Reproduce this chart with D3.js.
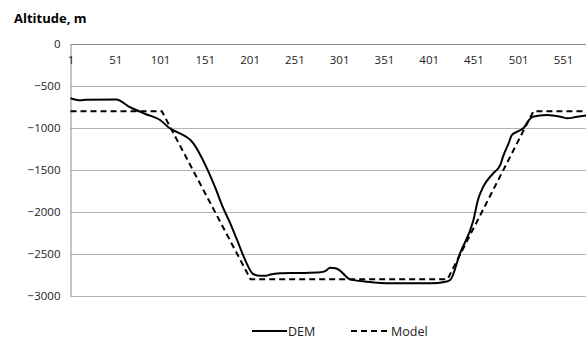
<!DOCTYPE html>
<html><head><meta charset="utf-8">
<script src="https://cdn.jsdelivr.net/npm/d3@7"></script>
<style>body{margin:0;background:#fff}svg{display:block}text{font-family:"Open Sans","Noto Sans",sans-serif}</style>
</head><body>
<svg id="c" width="586" height="343"></svg>
<script>
const yTicks = [0, -500, -1000, -1500, -2000, -2500, -3000];
const xTicks = [1, 51, 101, 151, 201, 251, 301, 351, 401, 451, 501, 551];
const demIndex = [1,12,18,52,67,84,101,113,120,138,146,155,163,171,180,187,196,205,213,219,224,235,258,280,286,291,297,302,308,313,332,358,403,420,425,436,451,456,462,473,481,484,490,494,500,507,512,517,533,548,556,565,578];
const demValue = [-645,-670,-665,-660,-750,-830,-905,-1012,-1048,-1180,-1321,-1520,-1720,-1940,-2150,-2333,-2570,-2738,-2760,-2760,-2745,-2730,-2726,-2718,-2700,-2663,-2670,-2698,-2760,-2802,-2829,-2849,-2849,-2830,-2810,-2492,-2095,-1857,-1698,-1540,-1440,-1341,-1190,-1083,-1044,-1000,-920,-865,-845,-865,-885,-870,-850];
const modelIndex = [1,103,202,422,518,578];
const modelValue = [-800,-800,-2800,-2800,-800,-800];

const svg = d3.select("#c");
const x = d3.scaleLinear().domain([1, 551]).range([70.5, 563]);
const y = d3.scaleLinear().domain([0, -3000]).range([44, 296]);
const W = 586;

svg.append("text").attr("x", 14).attr("y", 23).attr("font-weight", "bold").attr("font-size", 13).attr("fill", "#000").text("Altitude, m");

// gridlines
svg.append("g").selectAll("line").data(yTicks).join("line")
  .attr("x1", 70.5).attr("x2", W).attr("y1", d => Math.round(y(d)) + 0.5).attr("y2", d => Math.round(y(d)) + 0.5)
  .attr("stroke", d => d === 0 ? "#8c8c8c" : "#b3b3b3").attr("stroke-width", 1);

// y axis
const ya = d3.axisLeft(y).tickValues(yTicks).tickSize(0).tickPadding(10).tickFormat(d3.format("d"));
const gy = svg.append("g").attr("transform", "translate(70.5,0)").call(ya);
gy.select(".domain").attr("stroke", "#8c8c8c");
gy.selectAll("text").attr("font-size", 11.5).attr("fill", "#222");

// x axis labels
const xa = d3.axisBottom(x).tickValues(xTicks).tickSize(0).tickPadding(12).tickFormat(d3.format("d"));
const gx = svg.append("g").attr("transform", `translate(0,${y(0)})`).call(xa);
gx.select(".domain").remove();
gx.selectAll("text").attr("font-size", 11.5).attr("fill", "#222");

svg.append("clipPath").attr("id", "clip").append("rect").attr("x", 70).attr("y", 0).attr("width", W - 70).attr("height", 343);

const line = d3.line().x(d => x(d[0])).y(d => y(d[1])).curve(d3.curveMonotoneX);
const dem = demIndex.map((d, i) => [d, demValue[i]]);
const model = modelIndex.map((d, i) => [d, modelValue[i]]);
const g = svg.append("g").attr("clip-path", "url(#clip)");
g.append("path").datum(model).attr("d", d3.line().x(d => x(d[0])).y(d => y(d[1])))
  .attr("fill", "none").attr("stroke", "#000").attr("stroke-width", 2).attr("stroke-dasharray", "6,4");
g.append("path").datum(dem).attr("d", line)
  .attr("fill", "none").attr("stroke", "#000").attr("stroke-width", 2);

// legend
const lg = svg.append("g");
lg.append("line").attr("x1", 252).attr("x2", 287).attr("y1", 331).attr("y2", 331).attr("stroke", "#000").attr("stroke-width", 2);
lg.append("text").attr("x", 288).attr("y", 335.5).attr("font-size", 12.5).attr("fill", "#222").text("DEM");
lg.append("line").attr("x1", 351).attr("x2", 390).attr("y1", 331).attr("y2", 331).attr("stroke", "#000").attr("stroke-width", 2).attr("stroke-dasharray", "6,4");
lg.append("text").attr("x", 391).attr("y", 335.5).attr("font-size", 12.5).attr("fill", "#222").text("Model");
</script>
</body></html>
